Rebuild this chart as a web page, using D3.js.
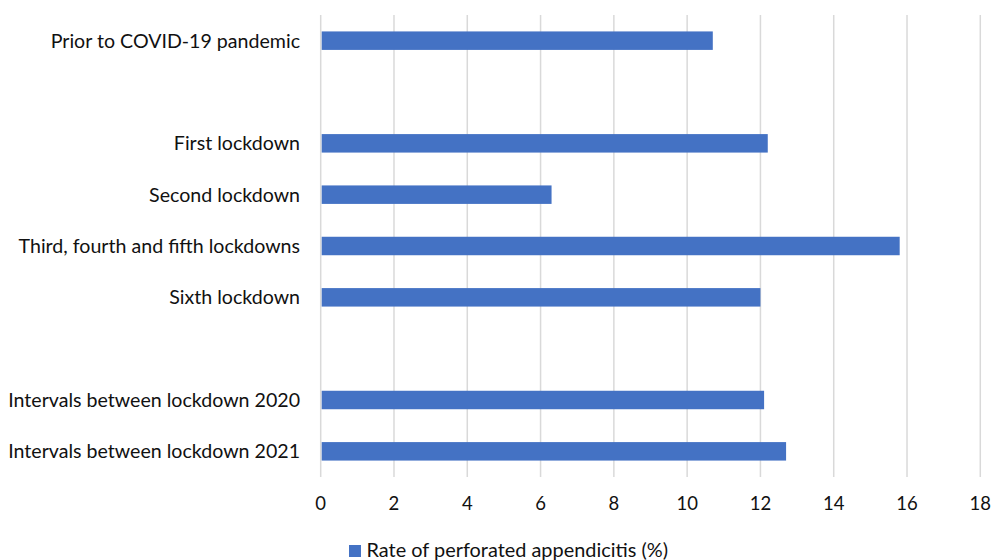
<!DOCTYPE html>
<html><head><meta charset="utf-8">
<script src="https://cdn.jsdelivr.net/npm/d3@7"></script>
<style>body{margin:0;background:#fff}svg{display:block}text{font-family:Lato,"Open Sans",sans-serif;fill:#111}</style>
</head><body><svg id="c" width="991" height="560"></svg>
<script>
const categories = ["Prior to COVID-19 pandemic", "", "First lockdown", "Second lockdown", "Third, fourth and fifth lockdowns", "Sixth lockdown", "", "Intervals between lockdown 2020", "Intervals between lockdown 2021"];
const values = [10.7, null, 12.2, 6.3, 15.8, 12.0, null, 12.1, 12.7];
const xTicks = [0, 2, 4, 6, 8, 10, 12, 14, 16, 18];
const seriesName = "Rate of perforated appendicitis (%)";

const svg = d3.select("#c");
const L = 320.7, R = 980.3, T = 15, B = 477;
const x = d3.scaleLinear().domain([0, 18]).range([L, R]);
const y = d3.scaleBand().domain(categories.map((d, i) => i)).range([T, B]).paddingInner(0.64).paddingOuter(0.32);

svg.append("g").selectAll("line").data(xTicks).join("line")
  .attr("x1", d => x(d)).attr("x2", d => x(d)).attr("y1", T).attr("y2", B)
  .attr("stroke", "#d9d9d9").attr("stroke-width", 1.5);

svg.append("g").selectAll("rect").data(values.map((v, i) => ({v, i})).filter(d => d.v != null)).join("rect")
  .attr("x", x(0) + 1).attr("y", d => y(d.i)).attr("width", d => x(d.v) - x(0) - 1).attr("height", y.bandwidth())
  .attr("fill", "#4472c4");

svg.append("g").selectAll("text").data(categories.map((c, i) => ({c, i})).filter(d => d.c)).join("text")
  .attr("x", 300).attr("y", d => y(d.i) + y.bandwidth() / 2).attr("dy", "0.35em")
  .attr("text-anchor", "end").attr("font-size", 19.6).text(d => d.c);

svg.append("g").selectAll("text").data(xTicks).join("text")
  .attr("x", d => x(d)).attr("y", 504).attr("dy", "0.35em").attr("text-anchor", "middle")
  .attr("font-size", 18.5).text(d => d);

const lg = svg.append("g");
lg.append("rect").attr("x", 349).attr("y", 545).attr("width", 12).attr("height", 12).attr("fill", "#4472c4");
lg.append("text").attr("x", 366.5).attr("y", 557).attr("font-size", 19.9).text(seriesName);
</script></body></html>
